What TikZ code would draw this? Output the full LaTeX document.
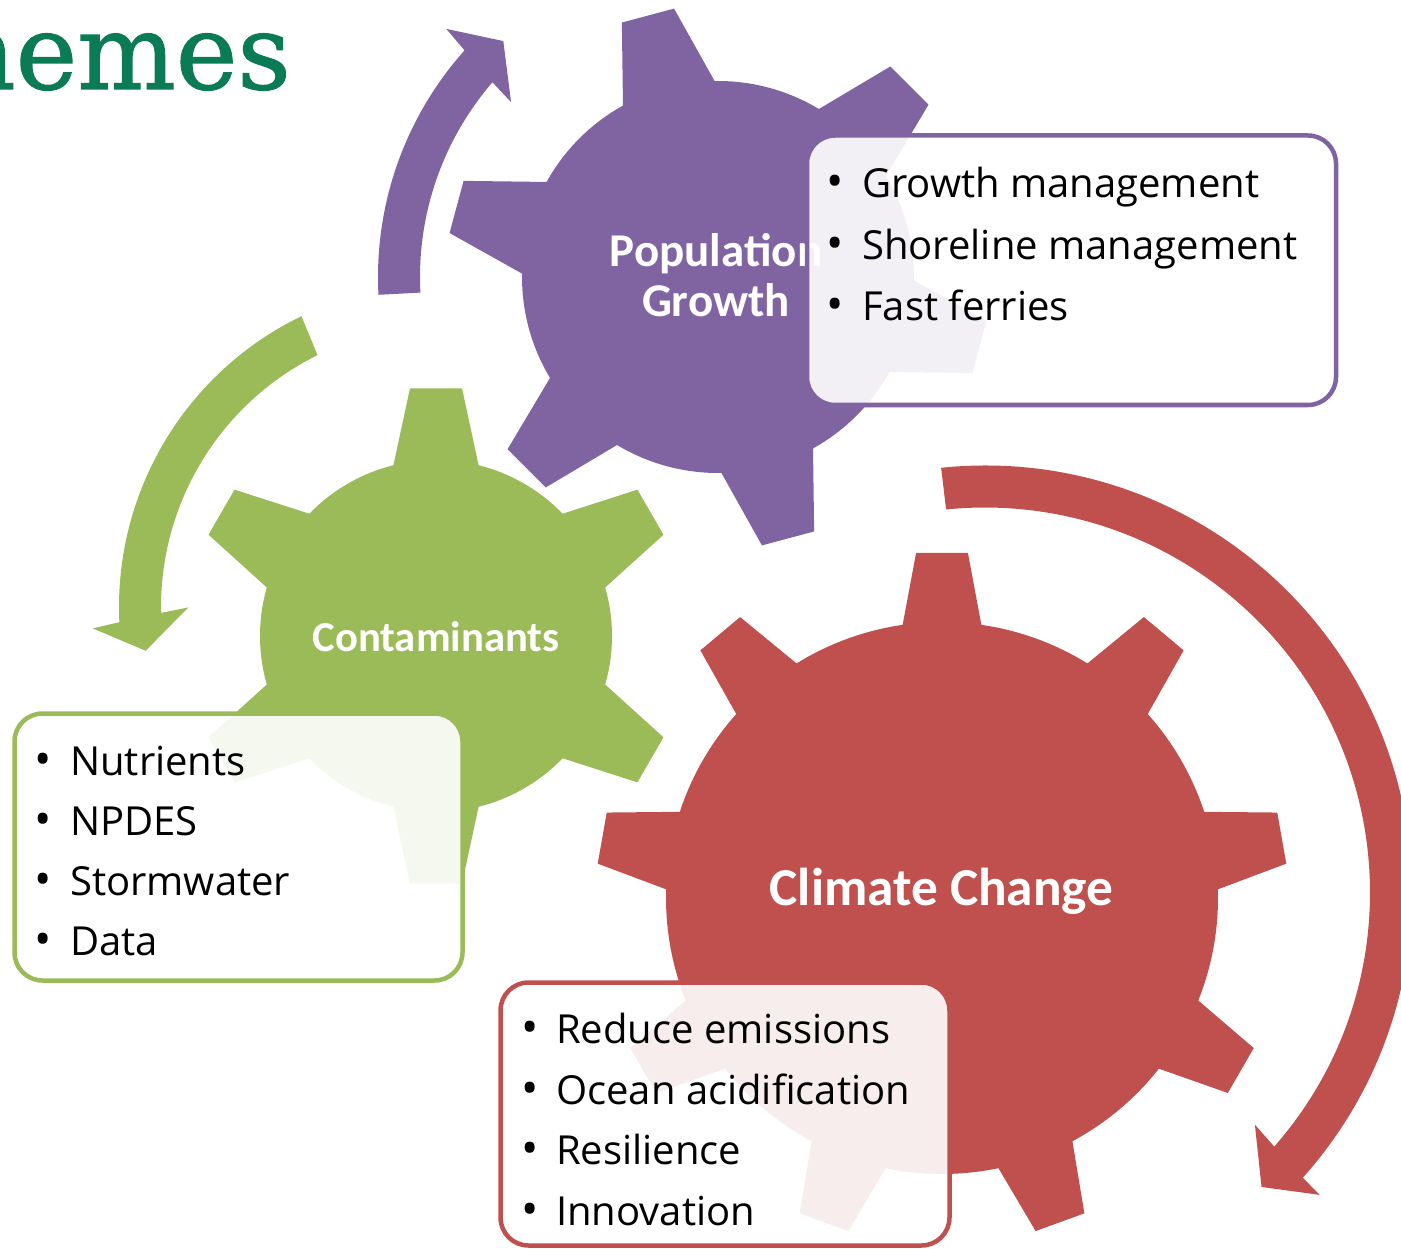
\documentclass[tikz,border=0pt]{standalone}
\usepackage{fontspec}
\newfontfamily\bodyf{Open Sans}
\newfontfamily\gearf{Carlito}
\newfontfamily\titlef{DejaVu Serif}[FakeBold=1.2]
\definecolor{pur}{RGB}{128,100,162}
\definecolor{grn}{RGB}{155,187,89}
\definecolor{redg}{RGB}{192,80,77}
\definecolor{ttl}{RGB}{10,123,84}
\newcommand\itmfnt{\bodyf\fontsize{40}{48}\selectfont}
\newcommand\bulfnt{\bodyf\fontsize{46}{48}\selectfont}
% #1 options, #2 centre, #3 teeth, #4 first tooth angle, #5 body radius, #6 tip radius, #7 base half angle, #8 tip half angle
\newcommand\gearshape[8]{%
  \begin{scope}[shift={#2},#1]
    \fill ({#4-#7}:#5pt)
      \foreach \k in {1,...,#3} {
        -- ({#4+(\k-1)*360/#3-#7}:#5pt)
        -- ({#4+(\k-1)*360/#3-#8}:#6pt)
        -- ({#4+(\k-1)*360/#3+#8}:#6pt)
        -- ({#4+(\k-1)*360/#3+#7}:#5pt)
        arc[start angle={#4+(\k-1)*360/#3+#7}, end angle={#4+\k*360/#3-#7}, radius=#5pt]
      } -- cycle;
  \end{scope}}
\begin{document}
\begin{tikzpicture}[x=1pt,y=1pt,
  glab/.style={anchor=base, inner sep=0pt, text=white},
  bul/.style={anchor=base, inner sep=0pt, font=\bulfnt},
  itm/.style={anchor=base west, inner sep=0pt, font=\itmfnt},
  infobox/.style={rounded corners=28pt, line width=4.5pt, fill=white, fill opacity=0.9}]
\useasboundingbox (0,-1249) rectangle (1401,0);
\clip (0,-1249) rectangle (1401,0);

% title
\node[anchor=base east, inner sep=0pt, text=ttl, font=\titlef\fontsize{104}{110}\selectfont] (title) at (291,-89) {hemes};

% gears
\gearshape{pur}{(718,-277)}{6}{105}{196}{272}{14}{5.7}
\gearshape{grn}{(436,-636)}{6}{90}{176}{249}{14}{6}
\gearshape{redg}{(942,-898)}{9}{90}{276}{346}{8.2}{4.3}

% gear labels
\node[glab, font=\gearf\bfseries\fontsize{47}{50}\selectfont] (popA) at (716,-267) {Population};
\node[glab, font=\gearf\bfseries\fontsize{47}{50}\selectfont] (popB) at (716,-317) {Growth};
\node[glab, font=\gearf\bfseries\fontsize{42.7}{48}\selectfont] (cont) at (436,-651) {Contaminants};
\node[glab, font=\gearf\bfseries\fontsize{53.3}{60}\selectfont] (clim) at (941.5,-905) {Climate Change};

% circular arrows
\begin{scope}[shift={(718,-277)}]
  \fill[pur] (183:340pt) arc[start angle=183, end angle=138.2, radius=340pt]
    -- (137.6:368pt) -- (132.3:319pt) -- (139.8:271pt) -- (139.2:298pt)
    arc[start angle=139.2, end angle=183, radius=298pt] -- cycle;
\end{scope}
\begin{scope}[shift={(442,-607)}]
  \fill[grn] (115.8:323pt) arc[start angle=115.8, end angle=182.7, radius=323pt]
    -- (183.5:350pt) -- (188.4:299.6pt) -- (180.1:253.7pt) -- (181.2:281pt)
    arc[start angle=181.2, end angle=116.3, radius=281pt] -- cycle;
\end{scope}
\begin{scope}[shift={(985,-892.5)}]
  \fill[redg] (95.9:427pt) arc[start angle=95.9, end angle=-41.9, radius=427pt]
    -- (-42.1:451pt) -- (-46.8:404pt) -- (-40.7:356pt) -- (-41.3:385pt)
    arc[start angle=-41.3, end angle=95.8, radius=385pt] -- cycle;
\end{scope}

% text boxes
\draw[infobox, draw=pur] (807,-135.5) rectangle (1336,-405);
\draw[infobox, draw=grn] (14.5,-713.5) rectangle (462.5,-980.5);
\draw[infobox, draw=redg] (500.5,-982.5) rectangle (949.5,-1245.5);

\foreach \txt [count=\i] in {Growth management, Shoreline management, Fast ferries} {
  \node[bul] (pb\i) at (835,{-198-61.3*(\i-1)}) {•};
  \node[itm] (pt\i) at (862,{-198-61.3*(\i-1)}) {\txt};
}
\foreach \txt [count=\i] in {Nutrients, NPDES, Stormwater, Data} {
  \node[bul] (gb\i) at (43.3,{-775-60.3*(\i-1)}) {•};
  \node[itm] (gt\i) at (70,{-775-60.3*(\i-1)}) {\txt};
}
\foreach \txt [count=\i] in {Reduce emissions, Ocean acidification, Resilience, Innovation} {
  \node[bul] (rb\i) at (530,{-1043.5-60.5*(\i-1)}) {•};
  \node[itm] (rt\i) at (556,{-1043.5-60.5*(\i-1)}) {\txt};
}
\end{tikzpicture}
\end{document}
